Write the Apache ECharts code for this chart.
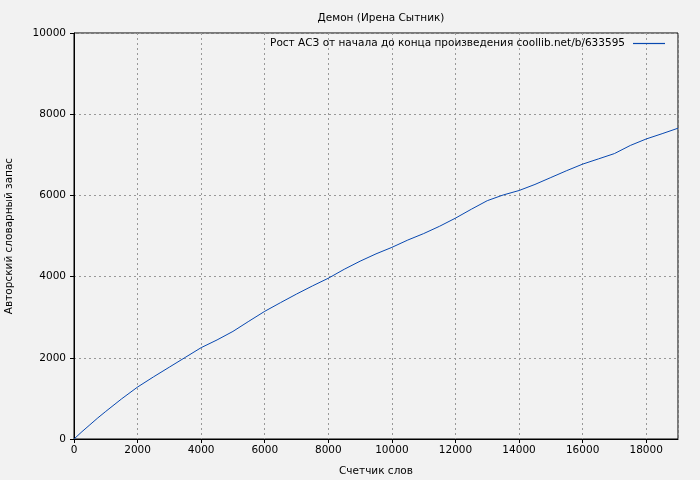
<!DOCTYPE html>
<html><head><meta charset="utf-8">
<script src="https://cdn.jsdelivr.net/npm/echarts@6/dist/echarts.min.js"></script>
<style>html,body{margin:0;padding:0;background:#f2f2f2}#c{width:700px;height:480px}</style>
</head><body><div id="c"></div>
<script>
var titleText = 'Демон (Ирена Сытник)';
var seriesName = 'Рост АСЗ от начала до конца произведения coollib.net/b/633595';
var xName = 'Счетчик слов';
var yName = 'Авторский словарный запас';
var words = [0,250,500,750,1000,1500,2000,2500,3000,3500,4000,4500,5000,5500,6000,6500,7000,7500,8000,8500,9000,9500,10000,10500,11000,11500,12000,12500,13000,13500,14000,14500,15000,15500,16000,16500,17000,17500,18000,18500,19000];
var vocab = [0,180,350,520,680,990,1280,1530,1770,2010,2250,2440,2650,2900,3145,3360,3570,3770,3960,4180,4380,4560,4720,4900,5060,5240,5440,5660,5870,6010,6120,6270,6440,6610,6770,6900,7030,7230,7390,7520,7655];
var xTicks = [0,2000,4000,6000,8000,10000,12000,14000,16000,18000];
var yTicks = [0,2000,4000,6000,8000,10000];

var data = words.map(function(w,i){return [w, vocab[i]];});
var font = 'DejaVu Sans';
var fs = 10.5;
var lineColor = '#0848b0';
var chart = echarts.init(document.getElementById('c'), null, {renderer:'canvas'});
chart.setOption({
  backgroundColor:'#f2f2f2',
  animation:false,
  textStyle:{fontFamily:font},
  title:{text:titleText,left:376,textAlign:'center',top:8,textStyle:{fontFamily:font,fontSize:fs,fontWeight:'normal',color:'#000'}},
  legend:{data:[seriesName],right:35,top:38,align:'right',icon:'rect',itemWidth:32,itemHeight:1.2,itemGap:0,padding:0,
    itemStyle:{color:lineColor,borderWidth:0},
    textStyle:{fontFamily:font,fontSize:fs,color:'#000',padding:[0,3,0,0]}},
  grid:{left:74,right:22,top:33,bottom:41,show:true,borderColor:'#000',borderWidth:1,backgroundColor:'transparent',outerBoundsMode:'none',containLabel:false},
  xAxis:{type:'value',min:0,max:19000,interval:2000,name:xName,nameLocation:'middle',nameGap:27,
    nameTextStyle:{fontFamily:font,fontSize:fs,color:'#000'},
    axisLine:{lineStyle:{color:'#000',width:1}},axisTick:{show:true,length:4,lineStyle:{color:'#000'}},
    axisLabel:{color:'#000',fontSize:fs,fontFamily:font,margin:6,showMaxLabel:false,
      formatter:function(v){return xTicks.indexOf(v)>=0?String(v):'';}},
    splitLine:{show:true,lineStyle:{color:'#999',type:[2,3],width:1}}},
  yAxis:{type:'value',min:0,max:10000,interval:2000,name:yName,nameLocation:'middle',nameGap:59,
    nameTextStyle:{fontFamily:font,fontSize:fs,color:'#000'},
    axisLine:{lineStyle:{color:'#000',width:1}},axisTick:{show:true,length:4,lineStyle:{color:'#000'}},
    axisLabel:{color:'#000',fontSize:fs,fontFamily:font,margin:8,
      formatter:function(v){return yTicks.indexOf(v)>=0?String(v):'';}},
    splitLine:{show:true,lineStyle:{color:'#999',type:[2,3],width:1}}},
  series:[{name:seriesName,type:'line',data:data,showSymbol:false,symbol:'none',
    lineStyle:{color:lineColor,width:1},itemStyle:{color:lineColor}}]
});
</script></body></html>
